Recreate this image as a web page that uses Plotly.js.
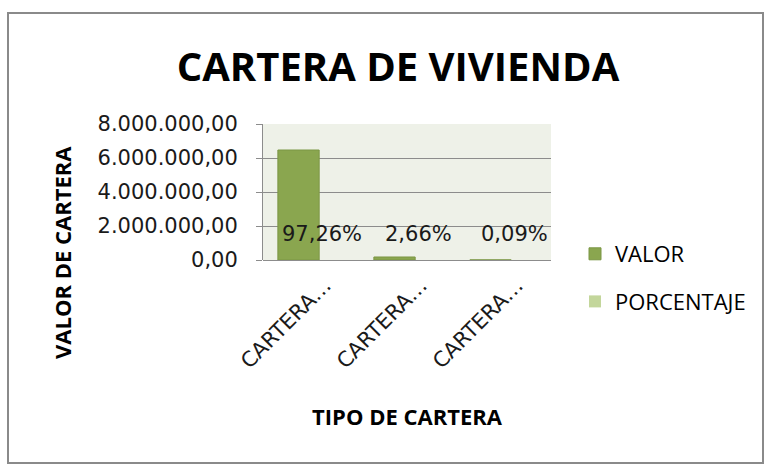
<!DOCTYPE html>
<html>
<head>
<meta charset="utf-8">
<script src="https://cdn.plot.ly/plotly-3.0.1.min.js"></script>
<style>
html,body{margin:0;padding:0;background:#fff;}
#wrap{position:relative;width:769px;height:466px;}
#chart{position:absolute;left:0;top:0;width:769px;height:466px;}
#frame{position:absolute;left:7px;top:12px;width:753px;height:448px;border:2px solid #8a8a8a;pointer-events:none;}
</style>
</head>
<body>
<div id="wrap"><div id="chart"></div><div id="frame"></div></div>
<script>
const categories = ["CARTERA VIS", "CARTERA NO VIS", "CARTERA OTRA"];
const tickLabels = ["CARTERA…", "CARTERA…", "CARTERA…"];
const valor = [6470000, 177000, 6000];
const porcentaje = [0.9726, 0.0266, 0.0009];
const pctLabels = ["97,26%", "2,66%", "0,09%"];
const seriesNames = ["VALOR", "PORCENTAJE"];

const tickFont = {family: "DejaVu Sans, sans-serif", size: 21, color: "#1a1a1a"};
const titleFont = {family: "Open Sans, sans-serif", size: 22, color: "#000"};

const traces = [
  {type: "bar", name: seriesNames[0], x: categories, y: valor, legendgroup: "a",
   width: 0.43, offset: -0.345,
   marker: {color: "#8aa64f", line: {color: "#7b9644", width: 1}}},
  {type: "bar", name: seriesNames[1], x: categories, y: porcentaje, legendgroup: "b",
   width: 0.43, offset: -0.1,
   marker: {color: "#c3d69b", line: {color: "#8aa64f", width: 0}}}
];

const annotations = categories.map((c, i) => ({
  x: c, y: 0, xref: "x", yref: "y", text: pctLabels[i], showarrow: false,
  xshift: 11, yshift: 26, yanchor: "middle", xanchor: "center",
  font: tickFont
}));
annotations.push({
  xref: "paper", yref: "paper", x: (62 - 263) / 288, y: (260 - 253) / 136,
  text: "<b>VALOR DE CARTERA</b>", textangle: -90, showarrow: false,
  xanchor: "center", yanchor: "middle",
  font: titleFont
});

const layout = {
  width: 769, height: 466,
  margin: {l: 263, r: 218, t: 124, b: 206},
  paper_bgcolor: "#ffffff",
  plot_bgcolor: "#eef1e8",
  separators: ",.",
  barmode: "group",
  showlegend: true,
  title: {text: "<b>CARTERA DE VIVIENDA</b>", x: 398 / 769, xref: "container", xanchor: "center",
          y: 1 - 67 / 466, yref: "container", yanchor: "middle",
          font: {family: "Open Sans, sans-serif", size: 40, color: "#000"}},
  xaxis: {type: "category", tickvals: categories, ticktext: tickLabels, tickangle: -45,
          ticks: "", showgrid: false, showline: false, zeroline: false,
          tickfont: tickFont, ticklabelstandoff: 8, ticklabelshift: 14,
          title: {text: "<b>TIPO DE CARTERA</b>", standoff: 37, font: titleFont},
          automargin: false, fixedrange: true},
  yaxis: {range: [0, 8000000], dtick: 2000000, tick0: 0, tickformat: ",.2f",
          showgrid: true, gridcolor: "#8c8c8c", gridwidth: 1,
          showline: true, linecolor: "#8c8c8c", linewidth: 1,
          ticks: "outside", ticklen: 6, tickcolor: "#8c8c8c",
          zeroline: true, zerolinecolor: "#8c8c8c", zerolinewidth: 1,
          tickfont: tickFont, ticklabelstandoff: 14, automargin: false, fixedrange: true},
  legend: {x: (575 - 263) / 288, y: (260 - 233) / 136, xanchor: "left", yanchor: "top",
           traceorder: "grouped", tracegroupgap: 16, bgcolor: "rgba(0,0,0,0)",
           font: {family: "Open Sans, sans-serif", size: 22, color: "#000"}},
  annotations: annotations
};

Plotly.newPlot("chart", traces, layout, {displayModeBar: false, staticPlot: true});
</script>
</body>
</html>
